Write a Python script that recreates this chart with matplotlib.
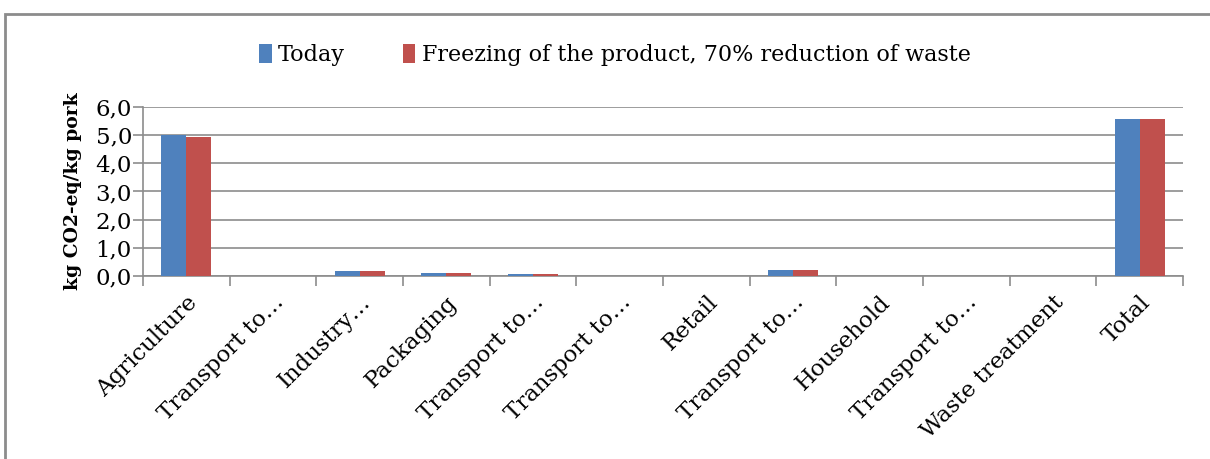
import numpy as np
import matplotlib.pyplot as plt
from matplotlib.patches import Rectangle

categories = ['Agriculture', 'Transport to…', 'Industry…', 'Packaging', 'Transport to…',
              'Transport to…', 'Retail', 'Transport to…', 'Household', 'Transport to…',
              'Waste treatment', 'Total']
today = [5.0, 0.0, 0.16, 0.12, 0.07, 0.0, 0.0, 0.2, 0.0, 0.0, 0.0, 5.56]
freezing = [4.93, 0.0, 0.16, 0.12, 0.07, 0.0, 0.0, 0.2, 0.0, 0.0, 0.0, 5.56]
labels = ['Today', 'Freezing of the product, 70% reduction of waste']

plt.rcParams['font.family'] = ['DejaVu Serif']

fig = plt.figure(figsize=(12.1, 4.59), dpi=100)
ax = fig.add_axes([143/1210, 1-276/459, 1040/1210, 169/459])

# chart border
fig.patches.append(Rectangle((5/1210, -0.1), 1.2, 1-14/459+0.1, transform=fig.transFigure,
                             fill=False, edgecolor='#8c8c8c', linewidth=2))

x = np.arange(len(categories))
w = 0.29
ax.bar(x - w/2, today, w, color='#4F81BD', label=labels[0], zorder=3)
ax.bar(x + w/2, freezing, w, color='#C0504D', label=labels[1], zorder=3)

ax.set_xlim(-0.5, len(categories) - 0.5)
ax.set_ylim(0, 6)
yt = np.arange(0, 6.1, 1)
ax.set_yticks(yt)
ax.set_yticklabels([f'{v:.1f}'.replace('.', ',') for v in yt], fontsize=16.5)
ax.yaxis.grid(True, color='#8c8c8c', linewidth=1.2, zorder=0)
ax.tick_params(axis='y', length=7, color='#8c8c8c', width=1.2, pad=1)

ax.set_xticks(x)
ax.set_xticklabels(categories, rotation=45, ha='right', rotation_mode='anchor',
                   fontsize=16.5)
ax.tick_params(axis='x', length=0, pad=11)
ax.set_xticks(np.arange(-0.5, len(categories), 1), minor=True)
ax.tick_params(axis='x', which='minor', length=7, color='#8c8c8c', width=1.2)

for s in ['top', 'right']:
    ax.spines[s].set_visible(False)
for s in ['bottom', 'left']:
    ax.spines[s].set_color('#8c8c8c')
    ax.spines[s].set_linewidth(1.2)

ax.set_ylabel('kg CO2-eq/kg pork', fontsize=13.5, fontweight='bold', labelpad=10)

fig.legend(loc='center', bbox_to_anchor=(615/1210, 1-55/459), ncol=2, frameon=False,
           fontsize=16, handlelength=0.55, handleheight=0.9, handletextpad=0.3,
           columnspacing=2.6)

plt.savefig('out.png', dpi=100)
